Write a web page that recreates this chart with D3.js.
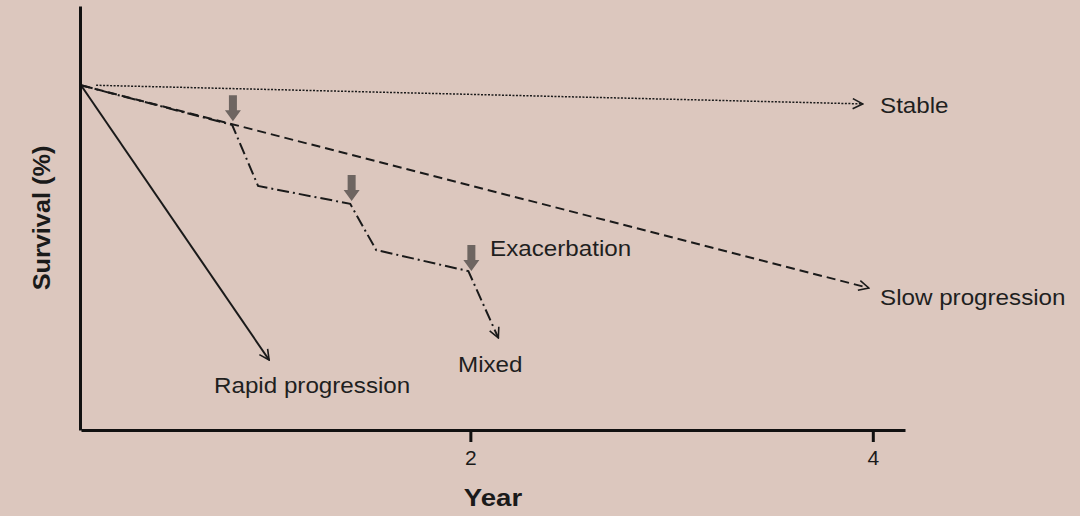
<!DOCTYPE html>
<html>
<head>
<meta charset="utf-8">
<script src="https://cdn.jsdelivr.net/npm/d3@7"></script>
<style>
  html, body { margin: 0; padding: 0; background: #dcc7be; }
  svg { display: block; font-family: "Liberation Sans", Arial, sans-serif; }
</style>
</head>
<body>
<div id="vis"></div>
<script>
/* Datos (años, supervivencia %) */
const rapidYears = [0.065, 1.0];
const rapidSurv = [100, 20.3];

const stableYears = [0.14, 3.95];
const stableSurv = [100, 94.6];

const slowYears = [0.065, 3.98];
const slowSurv = [100, 41.2];

const mixedYears = [0.065, 0.816, 0.945, 1.403, 1.532, 1.99, 2.139];
const mixedSurv = [100, 88.5, 70.8, 65.6, 52.2, 46.1, 26.7];

const exacerbationYears = [0.82, 1.41, 2.005];
const exacerbationSurv = [89.6, 66.4, 46.1];

const xTicks = [2, 4];

/* Tamaños */
const WIDTH = 1080;
const HEIGHT = 516;
const STRETCH = 1.1; // el texto original sale algo ensanchado

const x = d3.scaleLinear().domain([0.065, 4.16]).range([81, 905]);
const y = d3.scaleLinear().domain([0, 123]).range([430, 6]);

const svg = d3.select("#vis")
    .append("svg")
    .attr("width", WIDTH)
    .attr("height", HEIGHT);

svg.append("rect")
    .attr("width", WIDTH)
    .attr("height", HEIGHT)
    .attr("fill", "#dcc7be");

// marcador de flecha abierta
svg.append("defs").append("marker")
    .attr("id", "open-arrow")
    .attr("viewBox", "0 0 12 12")
    .attr("refX", 11)
    .attr("refY", 6)
    .attr("markerWidth", 12)
    .attr("markerHeight", 12)
    .attr("markerUnits", "userSpaceOnUse")
    .attr("orient", "auto")
    .append("path")
    .attr("d", "M1,1 L11,6 L1,11")
    .attr("fill", "none")
    .attr("stroke", "#1a1a1a")
    .attr("stroke-width", 1.6);

const line = d3.line()
    .x(d => x(d[0]))
    .y(d => y(d[1]));

const series = [
    { name: "Stable", years: stableYears, surv: stableSurv, dash: "2,1.5", width: 1.5 },
    { name: "Slow progression", years: slowYears, surv: slowSurv, dash: "9,5", width: 2 },
    { name: "Mixed", years: mixedYears, surv: mixedSurv, dash: "12,4,2,4", width: 2 },
    { name: "Rapid progression", years: rapidYears, surv: rapidSurv, dash: null, width: 2 }
];

svg.append("g")
    .attr("class", "curves")
    .selectAll("path")
    .data(series)
    .enter()
    .append("path")
    .attr("d", s => line(s.years.map((yr, i) => [yr, s.surv[i]])))
    .attr("fill", "none")
    .attr("stroke", "#1a1a1a")
    .attr("stroke-width", s => s.width)
    .attr("stroke-dasharray", s => s.dash)
    .attr("marker-end", "url(#open-arrow)");

// Flechas grises de exacerbación
const arrowG = svg.append("g").attr("class", "exacerbations");
arrowG.selectAll("path")
    .data(exacerbationYears.map((yr, i) => [yr, exacerbationSurv[i]]))
    .enter()
    .append("path")
    .attr("transform", d => `translate(${x(d[0])}, ${y(d[1])})`)
    .attr("d", "M-4,-26 L4,-26 L4,-11 L8,-11 L0,0 L-8,-11 L-4,-11 Z")
    .attr("fill", "#6e6561");

// Ejes
const xAxis = svg.append("g")
    .attr("transform", `translate(0, ${y(0)})`)
    .call(d3.axisBottom(x).tickValues(xTicks).tickFormat(d3.format("d"))
        .tickSize(12).tickSizeOuter(0).tickPadding(8));
xAxis.select(".domain").attr("stroke", "#111").attr("stroke-width", 3);
xAxis.selectAll(".tick line").attr("stroke", "#111").attr("stroke-width", 3);
xAxis.selectAll(".tick text")
    .attr("font-size", 21)
    .attr("font-family", "Liberation Sans, Arial, sans-serif")
    .attr("fill", "#1a1a1a");

const yAxis = svg.append("g")
    .attr("transform", `translate(${x.range()[0] - 1}, 0)`)
    .call(d3.axisLeft(y).tickValues([]).tickSizeOuter(0));
yAxis.select(".domain").attr("stroke", "#111").attr("stroke-width", 3);

// Títulos de ejes
svg.append("text")
    .attr("transform", `translate(${(x.range()[0] + x.range()[1]) / 2}, 506) scale(${STRETCH + 0.05}, 1)`)
    .attr("text-anchor", "middle")
    .attr("font-size", 24)
    .attr("font-weight", "bold")
    .attr("fill", "#1a1a1a")
    .text("Year");

svg.append("text")
    .attr("transform", `translate(50, ${(y.range()[0] + y.range()[1]) / 2}) rotate(-90) scale(${STRETCH}, 1)`)
    .attr("text-anchor", "middle")
    .attr("font-size", 23)
    .attr("font-weight", "bold")
    .attr("fill", "#1a1a1a")
    .text("Survival (%)");

// Etiquetas
const labels = [
    { text: "Stable", x: 880, y: 113 },
    { text: "Slow progression", x: 880, y: 305 },
    { text: "Exacerbation", x: 490, y: 256 },
    { text: "Mixed", x: 458, y: 372 },
    { text: "Rapid progression", x: 214, y: 393 }
];

svg.append("g")
    .selectAll("text")
    .data(labels)
    .enter()
    .append("text")
    .attr("transform", d => `translate(${d.x}, ${d.y}) scale(${STRETCH}, 1)`)
    .attr("font-size", 22)
    .attr("fill", "#1f1f1f")
    .text(d => d.text);
</script>
</body>
</html>
